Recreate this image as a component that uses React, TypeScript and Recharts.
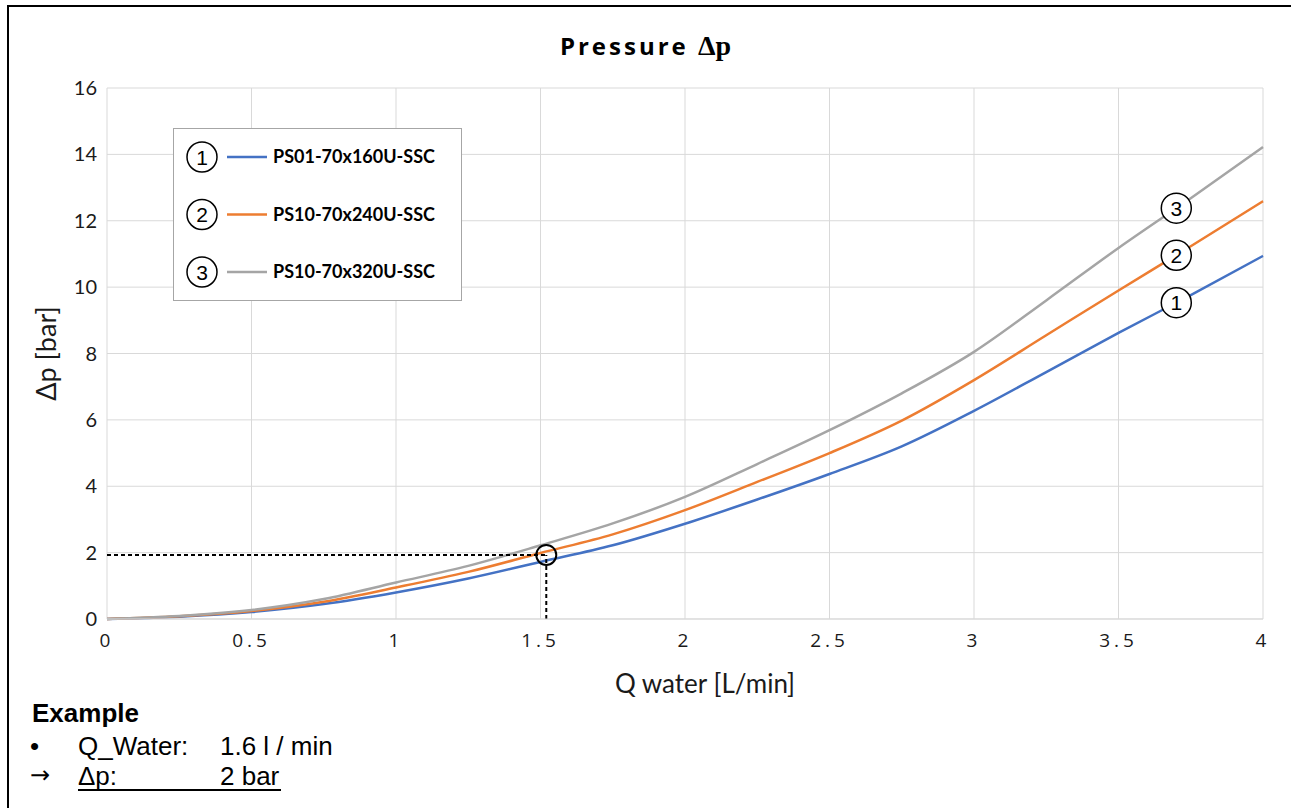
import { LineChart, Line, XAxis, YAxis, CartesianGrid, Legend, ReferenceDot, ReferenceLine, Label } from 'recharts';

const flow = [0, 0.25, 0.5, 0.75, 1, 1.25, 1.5, 1.75, 2, 2.25, 2.5, 2.75, 3, 3.25, 3.5, 3.75, 4];
const ps01 = [0, 0.07, 0.21, 0.45, 0.8, 1.22, 1.72, 2.22, 2.87, 3.6, 4.37, 5.2, 6.27, 7.44, 8.62, 9.76, 10.94];
const ps10_240 = [0, 0.08, 0.24, 0.52, 0.95, 1.42, 1.99, 2.55, 3.28, 4.13, 5.0, 5.98, 7.2, 8.55, 9.9, 11.23, 12.59];
const ps10_320 = [0, 0.09, 0.27, 0.6, 1.1, 1.6, 2.22, 2.88, 3.68, 4.67, 5.69, 6.8, 8.05, 9.6, 11.18, 12.68, 14.22];

const seriesNames = ['PS01-70x160U-SSC', 'PS10-70x240U-SSC', 'PS10-70x320U-SSC'];
const seriesColors = ['#4472C4', '#ED7D31', '#A5A5A5'];

const xTicks = [0, 0.5, 1, 1.5, 2, 2.5, 3, 3.5, 4];
const yTicks = [0, 2, 4, 6, 8, 10, 12, 14, 16];

// circled numbers sitting on the curves at the right
const markerX = 3.7;
const markerY = [9.53, 10.96, 12.38];

// worked example: 1.52 l/min -> ~1.93 bar
const exampleQ = 1.52;
const exampleDp = 1.93;

const data = flow.map((q, i) => ({ q, s1: ps01[i], s2: ps10_240[i], s3: ps10_320[i] }));

const CircledNumber = (props: any) => {
  const { cx, cy, n } = props;
  return (
    <g>
      <circle cx={cx} cy={cy} r={15} fill="#fff" stroke="#000" strokeWidth={1.5} />
      <text x={cx} y={cy} dy="0.36em" textAnchor="middle" fontSize={21} fontFamily="Liberation Sans, Arial, sans-serif" fill="#000">
        {n}
      </text>
    </g>
  );
};

const LegendBox = () => (
  <div style={{ width: 287, height: 171, border: '1px solid #a6a6a6', background: '#fff' }}>
    <svg width={287} height={171} style={{ display: 'block' }}>
      {seriesNames.map((name, i) => {
        const cy = 28 + i * 57.5;
        return (
          <g key={name}>
            <CircledNumber cx={28} cy={cy} n={i + 1} />
            <line x1={53} x2={93} y1={cy} y2={cy} stroke={seriesColors[i]} strokeWidth={2.5} />
            <text x={99} y={cy} dy="0.36em" fontSize={18} fontWeight="bold" fontFamily="Lato, sans-serif" fill="#000">
              {name}
            </text>
          </g>
        );
      })}
    </svg>
  </div>
);

export default function App() {
  return (
    <div style={{ position: 'absolute', left: 0, top: 0, width: 1291, height: 808, overflow: 'hidden', background: '#fff', fontFamily: 'Liberation Sans, Arial, sans-serif' }}>
      <div style={{ position: 'absolute', left: 7, top: 5, width: 1290, height: 810, borderTop: '2px solid #000', borderLeft: '2px solid #000' }} />
      <div style={{ position: 'absolute', left: 0, width: 1291, top: 29, textAlign: 'center', fontSize: 24, fontWeight: 'bold', color: '#000', paddingRight: 8 }}>
        <span style={{ fontFamily: 'Open Sans, sans-serif', letterSpacing: 3 }}>Pressure </span>
        <span style={{ fontFamily: 'Liberation Serif, serif', fontSize: 28 }}>Δp</span>
      </div>
      <div style={{ position: 'absolute', left: 0, top: 0 }}>
        <LineChart width={1291} height={808} data={data} margin={{ top: 88, right: 28, left: 7, bottom: 114 }}>
          <CartesianGrid stroke="#d9d9d9" />
          <XAxis
            dataKey="q"
            type="number"
            domain={[0, 4]}
            ticks={xTicks}
            height={75}
            tickLine={false}
            axisLine={{ stroke: '#d9d9d9' }}
            tickMargin={9}
            tick={{ fontSize: 19, fill: '#1a1a1a', fontFamily: 'Open Sans, sans-serif', letterSpacing: 4 }}
          >
            <Label value="Q water [L/min]" position="insideBottom" offset={1} dx={20} style={{ fontSize: 26, fill: '#1a1a1a', fontFamily: 'Lato, sans-serif' }} />
          </XAxis>
          <YAxis
            type="number"
            domain={[0, 16]}
            ticks={yTicks}
            width={100}
            tickLine={false}
            axisLine={false}
            tickMargin={4}
            tick={{ fontSize: 20, fill: '#1a1a1a', fontFamily: 'Lato, sans-serif' }}
          >
            <Label value="Δp [bar]" angle={-90} position="insideLeft" offset={39} style={{ fontSize: 27, fill: '#1a1a1a', fontFamily: 'Lato, sans-serif', textAnchor: 'middle' }} />
          </YAxis>
          <Legend
            layout="horizontal"
            verticalAlign="middle"
            align="center"
            content={() => <LegendBox />}
            wrapperStyle={{ left: 173, top: 128, width: 289, height: 173 }}
          />
          <Line type="monotone" dataKey="s1" name={seriesNames[0]} stroke={seriesColors[0]} strokeWidth={2.5} dot={false} isAnimationActive={false} />
          <Line type="monotone" dataKey="s2" name={seriesNames[1]} stroke={seriesColors[1]} strokeWidth={2.5} dot={false} isAnimationActive={false} />
          <Line type="monotone" dataKey="s3" name={seriesNames[2]} stroke={seriesColors[2]} strokeWidth={2.5} dot={false} isAnimationActive={false} />
          <ReferenceLine segment={[{ x: 0, y: exampleDp }, { x: exampleQ, y: exampleDp }]} stroke="#000" strokeWidth={2} strokeDasharray="4 3" />
          <ReferenceLine segment={[{ x: exampleQ, y: 0 }, { x: exampleQ, y: exampleDp }]} stroke="#000" strokeWidth={2} strokeDasharray="4 3" />
          <ReferenceDot x={exampleQ} y={exampleDp} r={10} fill="none" stroke="#000" strokeWidth={2} />
          {markerY.map((y, i) => (
            <ReferenceDot key={i} x={markerX} y={y} r={15} shape={(p: any) => <CircledNumber cx={p.cx} cy={p.cy} n={i + 1} />} />
          ))}
        </LineChart>
      </div>
      <div style={{ position: 'absolute', left: 32, top: 698, fontSize: 26, fontWeight: 'bold', color: '#000', lineHeight: '30px' }}>Example</div>
      <div style={{ position: 'absolute', left: 0, top: 731, fontSize: 26, color: '#000', lineHeight: '30px', width: 400 }}>
        <div style={{ position: 'relative', height: 30 }}>
          <span style={{ position: 'absolute', left: 30 }}>•</span>
          <span style={{ position: 'absolute', left: 78 }}>Q_Water:</span>
          <span style={{ position: 'absolute', left: 220 }}>1.6 l / min</span>
        </div>
        <div style={{ position: 'relative', height: 30 }}>
          <span style={{ position: 'absolute', left: 30, fontFamily: 'DejaVu Sans, sans-serif', fontSize: 24, lineHeight: '28px' }}>→</span>
          <div style={{ position: 'absolute', left: 78, top: 0, width: 203, height: 28, borderBottom: '2px solid #000' }}>
            <span style={{ position: 'absolute', left: 0 }}>Δp:</span>
            <span style={{ position: 'absolute', left: 142 }}>2 bar</span>
          </div>
        </div>
      </div>
    </div>
  );
}
